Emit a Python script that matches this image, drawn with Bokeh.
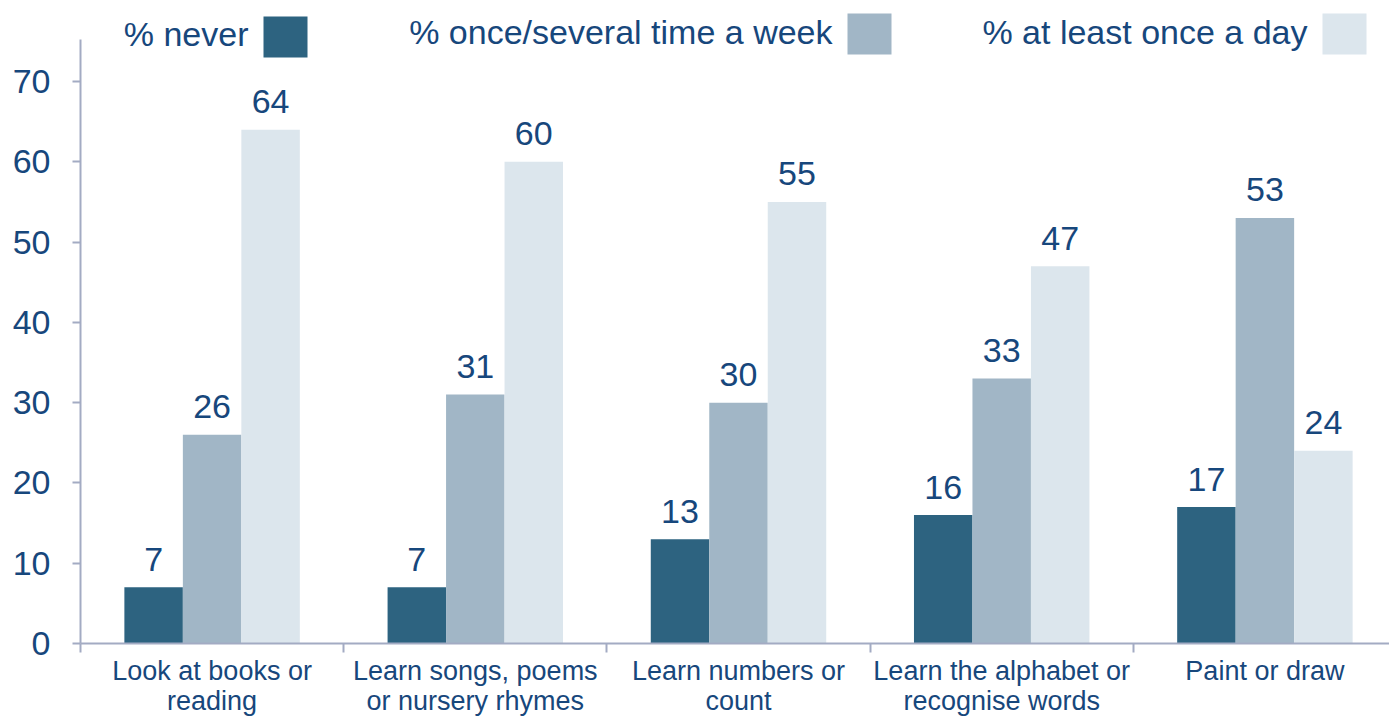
from bokeh.plotting import figure
from bokeh.models import Range1d, FixedTicker, ColumnDataSource
from bokeh.transform import dodge
from bokeh.core.properties import value
from bokeh.embed import file_html
from bokeh.resources import INLINE

# ---- data ----
categories = ["Look at books or\nreading",
              "Learn songs, poems\nor nursery rhymes",
              "Learn numbers or\ncount",
              "Learn the alphabet or\nrecognise words",
              "Paint or draw"]
series_names = ["% never", "% once/several time a week", "% at least once a day"]
never = [7, 7, 13, 16, 17]
weekly = [26, 31, 30, 33, 53]
daily = [64, 60, 55, 47, 24]
y_ticks = [0, 10, 20, 30, 40, 50, 60, 70]

colors = ["#2D6380", "#A1B6C6", "#DCE6ED"]
text_color = "#17477C"
axis_color = "#A3ABC3"
FONT = "Liberation Sans"

# ---- layout (pixels) ----
W, H = 1389, 718
left_px = 80            # frame left
frame_h = 643           # frame bottom (frame top at 0)
cat_px = 263.2          # px per category
px_per_unit = 562 / 70  # px per value unit

x_end = (W - left_px) / cat_px
y_end = frame_h / px_per_unit

p = figure(width=W, height=H, output_backend="svg", toolbar_location=None,
           x_range=Range1d(0, x_end), y_range=Range1d(0, y_end),
           min_border_left=left_px, min_border_right=0, min_border_top=0,
           min_border_bottom=H - frame_h)
p.outline_line_color = None
p.xgrid.grid_line_color = None
p.ygrid.grid_line_color = None
p.background_fill_color = "white"
p.border_fill_color = "white"

# ---- bars ----
bar_w = 0.2222
offsets = [-bar_w, 0.0, bar_w]
label_gap = 28 / px_per_unit
for vals, off, col in zip([never, weekly, daily], offsets, colors):
    xs = [i + 0.5 + off for i in range(len(categories))]
    src = ColumnDataSource(dict(x=xs, top=vals, lab=[str(v) for v in vals]))
    p.vbar(x="x", top="top", width=bar_w, bottom=0, source=src,
           fill_color=col, line_color=None)
    p.text(x="x", y=dodge("top", label_gap), text="lab", source=src,
           text_align="center", text_baseline="middle",
           text_font=value(FONT), text_font_size="34px", text_color=text_color)

# ---- y axis ----
yax = p.yaxis[0]
yax.ticker = FixedTicker(ticks=y_ticks)
yax.bounds = (0, (643 - 39) / px_per_unit)
yax.axis_line_color = axis_color
yax.axis_line_width = 2
yax.major_tick_line_color = axis_color
yax.major_tick_line_width = 2
yax.major_tick_out = 8
yax.major_tick_in = 0
yax.minor_tick_line_color = None
yax.major_label_standoff = 22
yax.major_label_text_font = FONT
yax.major_label_text_font_size = "34px"
yax.major_label_text_color = text_color

# ---- x axis ----
xax = p.xaxis[0]
centers = [i + 0.5 for i in range(len(categories))]
xax.ticker = FixedTicker(ticks=centers, minor_ticks=list(range(len(categories) + 1)))
xax.major_label_overrides = {c: lab for c, lab in zip(centers, categories)}
xax.axis_line_color = axis_color
xax.axis_line_width = 2
xax.major_tick_line_color = None
xax.major_tick_out = 0
xax.major_tick_in = 0
xax.minor_tick_line_color = axis_color
xax.minor_tick_line_width = 2
xax.minor_tick_out = 9
xax.minor_tick_in = 0
xax.major_label_standoff = 3
xax.major_label_text_font = FONT
xax.major_label_text_font_size = "27px"
xax.major_label_text_line_height = 1.0
xax.major_label_text_color = text_color

# ---- legend (text left of a square swatch) ----
def px_x(page_x):
    return (page_x - left_px) / cat_px

def px_y(page_y):
    return (frame_h - page_y) / px_per_unit

sq_left = [263, 847, 1322]
sq_top = [16, 13, 13]
txt_mid = [33, 31, 31]
sq_size = (44, 41)
for name, col, sl, st, tm in zip(series_names, colors, sq_left, sq_top, txt_mid):
    cx = px_x(sl + sq_size[0] / 2)
    cy = px_y(st + sq_size[1] / 2)
    p.rect(x=[cx], y=[cy], width=sq_size[0], height=sq_size[1],
           width_units="screen", height_units="screen",
           fill_color=col, line_color=None)
    p.text(x=[px_x(sl - 15)], y=[px_y(tm)], text=[name], text_align="right",
           text_baseline="middle", text_font=value(FONT), text_font_size="34px",
           text_color=text_color)

open("out.html", "w").write(file_html(p, INLINE))
